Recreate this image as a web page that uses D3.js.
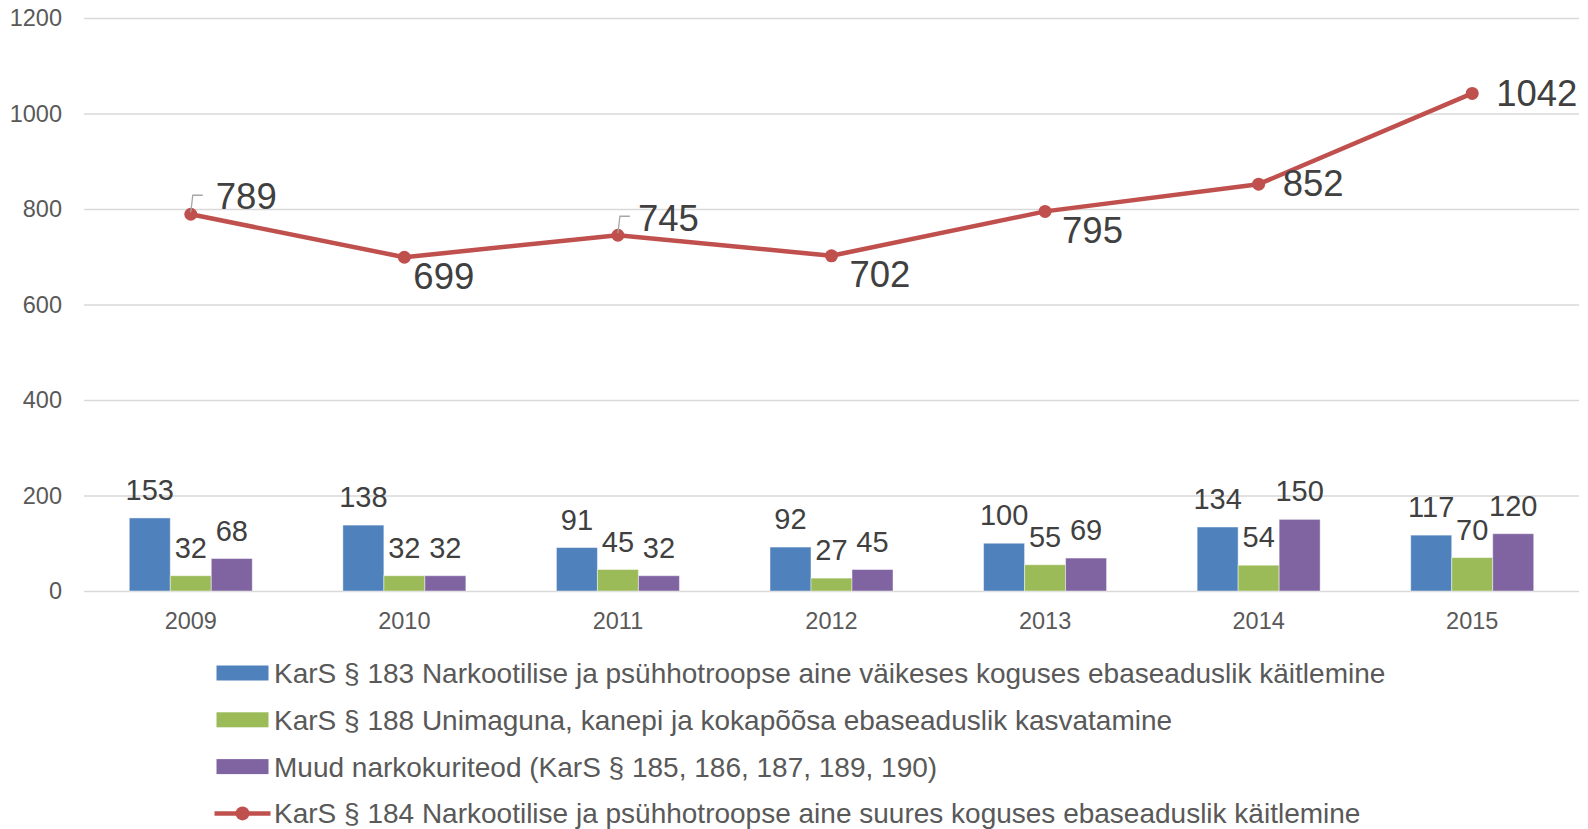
<!DOCTYPE html>
<html>
<head>
<meta charset="utf-8">
<script src="https://cdn.jsdelivr.net/npm/d3@7"></script>
<style>
	body { margin: 0; background: #fff; }
	svg { display: block; font-family: "Liberation Sans", Arial, sans-serif; }
</style>
</head>
<body>
<svg></svg>
<script>
var width = 1588;
var height = 829;

// data
var years = ['2009', '2010', '2011', '2012', '2013', '2014', '2015'];
var kars183 = [153, 138, 91, 92, 100, 134, 117];
var kars188 = [32, 32, 45, 27, 55, 54, 70];
var muud = [68, 32, 32, 45, 69, 150, 120];
var kars184 = [789, 699, 745, 702, 795, 852, 1042];
var yTicks = [0, 200, 400, 600, 800, 1000, 1200];
var seriesNames = [
	'KarS § 183 Narkootilise ja psühhotroopse aine väikeses koguses ebaseaduslik käitlemine',
	'KarS § 188 Unimaguna, kanepi ja kokapõõsa ebaseaduslik kasvatamine',
	'Muud narkokuriteod (KarS § 185, 186, 187, 189, 190)',
	'KarS § 184 Narkootilise ja psühhotroopse aine suures koguses ebaseaduslik käitlemine'
];

var colors = ['#4F81BD', '#9BBB59', '#8064A2', '#C0504D'];
// where each line label sits relative to its point
var lineLabelOffset = [[25, -5], [9, 32], [20, -4], [18, 31], [17, 32], [24, 12], [24, 13]];
var leader = [true, false, true, false, false, false, false];

var svg = d3.select('svg')
	.attr('width', width)
	.attr('height', height);

var plot = {left: 84, right: 1579, top: 18, bottom: 591};

var x = d3.scaleBand()
	.domain(years)
	.range([plot.left, plot.right]);

var groupWidth = 123;
var x1 = d3.scaleBand()
	.domain([0, 1, 2])
	.range([0, groupWidth]);

var y = d3.scaleLinear()
	.domain([0, 1200])
	.range([plot.bottom, plot.top]);

// gridlines
var grid = svg.append('g')
	.attr('transform', `translate(${plot.left},0)`)
	.call(d3.axisLeft(y).tickValues(yTicks).tickSize(-(plot.right - plot.left)).tickFormat(''));
grid.select('.domain').remove();
grid.selectAll('line').attr('stroke', '#d9d9d9').attr('stroke-width', 1.3);

var yAxis = svg.append('g')
	.attr('transform', 'translate(62,0)')
	.call(d3.axisLeft(y).tickValues(yTicks).tickFormat(d3.format('d')).tickSize(0).tickPadding(0));
yAxis.select('.domain').remove();
yAxis.selectAll('text')
	.attr('fill', '#595959')
	.style('font-size', '23.5px');

var xAxis = svg.append('g')
	.attr('transform', `translate(0,${plot.bottom})`)
	.call(d3.axisBottom(x).tickSize(0).tickPadding(0));
xAxis.select('.domain').remove();
xAxis.selectAll('text')
	.attr('fill', '#595959')
	.attr('dy', null)
	.attr('y', 38)
	.style('font-size', '23.5px');

// bars
var barSeries = [kars183, kars188, muud];
var offset = (x.bandwidth() - groupWidth) / 2;

barSeries.forEach(function (values, i) {
	var g = svg.append('g');
	g.selectAll('rect')
		.data(values)
		.join('rect')
		.attr('x', (d, j) => x(years[j]) + offset + x1(i))
		.attr('width', x1.bandwidth())
		.attr('y', d => y(d))
		.attr('height', d => y(0) - y(d))
		.attr('fill', colors[i])
		.attr('stroke', 'rgba(255,255,255,0.45)')
		.attr('stroke-width', 1);
	g.selectAll('text')
		.data(values)
		.join('text')
		.attr('x', (d, j) => x(years[j]) + offset + x1(i) + x1.bandwidth() / 2)
		.attr('y', d => y(d) - 18)
		.attr('text-anchor', 'middle')
		.attr('fill', '#404040')
		.style('font-size', '29px')
		.text(d => d);
});

// line
var cx = (d, j) => x(years[j]) + x.bandwidth() / 2;
var line = d3.line()
	.x(cx)
	.y(d => y(d));

svg.append('path')
	.attr('d', line(kars184))
	.attr('fill', 'none')
	.attr('stroke', colors[3])
	.attr('stroke-width', 4.5)
	.attr('stroke-linejoin', 'round');

svg.append('g').selectAll('circle')
	.data(kars184)
	.join('circle')
	.attr('cx', cx)
	.attr('cy', d => y(d))
	.attr('r', 6.5)
	.attr('fill', colors[3]);

// leader lines
svg.append('g').selectAll('path')
	.data(kars184.map((d, j) => [d, j]).filter(p => leader[p[1]]))
	.join('path')
	.attr('d', p => {
		var px = cx(p[0], p[1]), py = y(p[0]);
		return `M${px},${py - 2}L${px + 2},${py - 19}L${px + 12},${py - 19}`;
	})
	.attr('fill', 'none')
	.attr('stroke', '#a6a6a6')
	.attr('stroke-width', 1.3);

svg.append('g').selectAll('text')
	.data(kars184)
	.join('text')
	.attr('x', (d, j) => cx(d, j) + lineLabelOffset[j][0])
	.attr('y', (d, j) => y(d) + lineLabelOffset[j][1])
	.attr('fill', '#404040')
	.style('font-size', '36.5px')
	.text(d => d);

// legend
var legend = svg.append('g')
	.attr('transform', 'translate(216.5,673)');

seriesNames.forEach(function (name, i) {
	var row = legend.append('g')
		.attr('transform', `translate(0,${i * 46.8})`);
	if (i < 3) {
		row.append('rect')
			.attr('x', 0)
			.attr('y', -7.5)
			.attr('width', 52)
			.attr('height', 15)
			.attr('fill', colors[i]);
	} else {
		row.append('line')
			.attr('x1', -2)
			.attr('x2', 54)
			.attr('stroke', colors[3])
			.attr('stroke-width', 4.5);
		row.append('circle')
			.attr('cx', 26)
			.attr('r', 7)
			.attr('fill', colors[3]);
	}
	row.append('text')
		.attr('x', 57.5)
		.attr('y', 10)
		.attr('fill', '#595959')
		.style('font-size', '28px')
		.text(name);
});
</script>
</body>
</html>
